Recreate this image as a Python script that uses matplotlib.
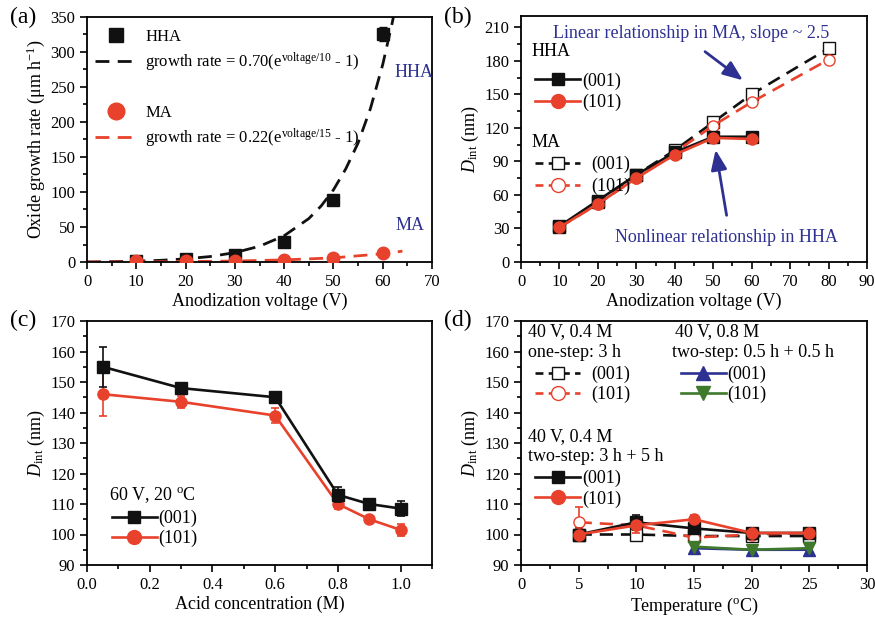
import matplotlib
matplotlib.use("Agg")
import matplotlib.pyplot as plt
from matplotlib.lines import Line2D
from matplotlib.ticker import MultipleLocator

plt.rcParams['font.family'] = ['Liberation Serif', 'DejaVu Serif']
plt.rcParams['mathtext.fontset'] = 'custom'
plt.rcParams['mathtext.rm'] = 'Liberation Serif'
plt.rcParams['mathtext.it'] = 'Liberation Serif:italic'
plt.rcParams['mathtext.bf'] = 'Liberation Serif:bold'
plt.rcParams['font.size'] = 12

BLACK = '#111111'
RED = '#e8412c'
BLUE = '#2e3192'
GREEN = '#3f7a2c'

# ---------------- data (a) ----------------
a_volt = [10, 20, 30, 40, 50, 60]
a_hha = [2, 5, 10, 29, 88, 326]
a_hha_err = [1, 1.5, 2, 4, 5, 10]
a_ma = [1, 2, 2, 3, 6, 13]
a_ma_err = [0.5, 0.5, 0.5, 0.5, 0.5, 1]
a_fit_hha_x = [0, 5, 10, 15, 20, 25, 30, 35, 40, 45, 47.5, 50, 52.5, 55, 57.5, 60, 62, 63.5]
a_fit_hha_y = [0, 0.45, 1.2, 2.4, 4.5, 7.8, 13.4, 22.5, 37.5, 62, 80, 103, 133, 170, 219, 282, 344, 400]
a_fit_ma_x = [0, 10, 20, 30, 40, 50, 60, 64]
a_fit_ma_y = [0, 0.2, 0.6, 1.4, 3.0, 5.9, 11.8, 15.5]

# ---------------- data (b) ----------------
b_volt_hha = [10, 20, 30, 40, 50, 60]
b_hha_001 = [32, 55, 78, 98, 112, 112]
b_hha_101 = [31, 52, 75, 96, 111, 110]
b_volt_ma = [10, 20, 30, 40, 50, 60, 80]
b_ma_001 = [31, 54, 78, 100, 125, 150, 191]
b_ma_101 = [31, 52, 75, 98, 122, 143, 181]
b_err = 3

# ---------------- data (c) ----------------
c_conc = [0.05, 0.3, 0.6, 0.8, 0.9, 1.0]
c_001 = [155, 148, 145, 113, 110, 108.5]
c_001_err = [6.5, 1.5, 1, 2.5, 1, 2.5]
c_101 = [146, 143.5, 139, 110, 105, 101.5]
c_101_err = [7, 2, 2.5, 1.5, 1, 2]

# ---------------- data (d) ----------------
d_temp = [5, 10, 15, 20, 25]
d_one_001 = [100, 100, 99.5, 99.5, 99.5]
d_one_101 = [104, 103, 99, 100, 100.5]
d_one_101_err = [5, 2, 2, 1.5, 1.5]
d_two_001 = [100, 104, 102, 100.5, 100.5]
d_two_101 = [100, 103, 105, 100.5, 100.5]
d_two_err = [2, 2.5, 1.5, 1.5, 1.5]
d_temp_08 = [15, 20, 25]
d_08_001 = [95.5, 95, 95]
d_08_101 = [96, 95, 95.5]
d_08_err = [1.5, 1.5, 1.5]

fig = plt.figure(figsize=(8.75, 6.23), dpi=100)
W, H = 875, 623

def add_axes(l, t, r, b):
    return fig.add_axes([l / W, 1 - b / H, (r - l) / W, (b - t) / H])

axa = add_axes(87, 17, 432, 262)
axb = add_axes(521, 16, 867, 262)
axc = add_axes(87, 321, 432, 565)
axd = add_axes(521, 321, 867, 565)

for ax in (axa, axb, axc, axd):
    ax.tick_params(which='both', direction='out', top=False, right=False, labelsize=12)
    ax.tick_params(which='major', length=5, width=1.2)
    ax.tick_params(which='minor', length=3, width=1.2)
    for s in ax.spines.values():
        s.set_linewidth(1.3)

DASH = (5, 3)
LW = 1.9

# ---------- (a) ----------
axa.plot(a_fit_hha_x, a_fit_hha_y, color=BLACK, lw=2, dashes=DASH, zorder=2)
axa.plot(a_fit_ma_x, a_fit_ma_y, color=RED, lw=2, dashes=DASH, zorder=2)
axa.errorbar(a_volt, a_hha, yerr=a_hha_err, fmt='s', color=BLACK, ms=8, capsize=3, lw=1.2, zorder=3)
axa.errorbar(a_volt, a_ma, yerr=a_ma_err, fmt='o', color=RED, ms=9, capsize=3, lw=1.2, zorder=3)
axa.set_xlim(0, 70)
axa.set_ylim(0, 350)
axa.xaxis.set_major_locator(MultipleLocator(10))
axa.xaxis.set_minor_locator(MultipleLocator(5))
axa.yaxis.set_major_locator(MultipleLocator(50))
axa.yaxis.set_minor_locator(MultipleLocator(25))
axa.set_xlabel('Anodization voltage (V)', fontsize=13, labelpad=2)
axa.set_ylabel(r'Oxide growth rate ($\mathrm{\mu m\ h^{-1}}$)', fontsize=13, labelpad=2)
axa.text(62.3, 270, 'HHA', color=BLUE, fontsize=13, ha='left', va='center')
axa.text(62.5, 52, 'MA', color=BLUE, fontsize=13, ha='left', va='center')
h1 = [Line2D([], [], ls='none', marker='s', color=BLACK, ms=10),
      Line2D([], [], color=BLACK, lw=2, dashes=DASH)]
l1 = ['HHA', r'growth rate = 0.70(e$^{\mathrm{voltage/10}}$ - 1)']
h2 = [Line2D([], [], ls='none', marker='o', color=RED, ms=12),
      Line2D([], [], color=RED, lw=2, dashes=DASH)]
l2 = ['MA', r'growth rate = 0.22(e$^{\mathrm{voltage/15}}$ - 1)']
lg1 = axa.legend(h1, l1, loc='upper left', bbox_to_anchor=(-0.01, 1.0), frameon=False,
                 fontsize=12, handlelength=2.5, handletextpad=0.5, labelspacing=0.35, borderpad=0.2)
axa.add_artist(lg1)
axa.legend(h2, l2, loc='upper left', bbox_to_anchor=(-0.01, 0.69), frameon=False,
           fontsize=12, handlelength=2.5, handletextpad=0.5, labelspacing=0.35, borderpad=0.2)
fig.text(10 / W, 1 - 17 / H, '(a)', fontsize=17, va='center', ha='left')

# ---------- (b) ----------
ek = dict(capsize=3, elinewidth=1.2, capthick=1.2)
axb.errorbar(b_volt_ma, b_ma_001, yerr=b_err, color=BLACK, marker='s', mfc='white', ms=8,
             lw=LW, dashes=DASH, **ek, zorder=3)
axb.errorbar(b_volt_ma, b_ma_101, yerr=b_err, color=RED, marker='o', mfc='white', ms=8,
             lw=LW, dashes=DASH, **ek, zorder=3)
axb.errorbar(b_volt_hha, b_hha_001, yerr=b_err, color=BLACK, marker='s', ms=8, lw=LW, **ek, zorder=4)
axb.errorbar(b_volt_hha, b_hha_101, yerr=b_err, color=RED, marker='o', ms=8, lw=LW, **ek, zorder=4)
axb.set_xlim(0, 90)
axb.set_ylim(0, 220)
axb.xaxis.set_major_locator(MultipleLocator(10))
axb.xaxis.set_minor_locator(MultipleLocator(5))
axb.yaxis.set_major_locator(MultipleLocator(30))
axb.yaxis.set_minor_locator(MultipleLocator(15))
axb.set_xlabel('Anodization voltage (V)', fontsize=13, labelpad=2)
axb.set_ylabel(r'$D_{\mathrm{int}}$ (nm)', fontsize=13, labelpad=2)
axb.text(44.2, 204.5, 'Linear relationship in MA, slope ~ 2.5', color=BLUE, fontsize=13,
         ha='center', va='center')
axb.text(53.5, 21.5, 'Nonlinear relationship in HHA', color=BLUE, fontsize=13,
         ha='center', va='center')
axb.annotate('', xy=(58.3, 161), xytext=(47.3, 189.6),
             arrowprops=dict(arrowstyle='-|>,head_length=1.0,head_width=0.4', color=BLUE, lw=2))
axb.annotate('', xy=(50.5, 102.8), xytext=(53.6, 39.3),
             arrowprops=dict(arrowstyle='-|>,head_length=1.0,head_width=0.4', color=BLUE, lw=2))
axb.text(0.03, 0.855, 'HHA', transform=axb.transAxes, fontsize=13, va='center')
axb.text(0.03, 0.485, 'MA', transform=axb.transAxes, fontsize=13, va='center')
hb1 = [Line2D([], [], color=BLACK, marker='s', ms=9, lw=LW),
       Line2D([], [], color=RED, marker='o', ms=10, lw=LW)]
hb2 = [Line2D([], [], color=BLACK, marker='s', ms=9, mfc='white', lw=LW, dashes=(3, 2)),
       Line2D([], [], color=RED, marker='o', ms=10, mfc='white', lw=LW, dashes=(3, 2))]
lgb = axb.legend(hb1, ['(001)', '(101)'], loc='upper left', bbox_to_anchor=(0.01, 0.815),
                 frameon=False, fontsize=13, handlelength=2.5, handletextpad=0.1,
                 labelspacing=0.25, borderpad=0.1)
axb.add_artist(lgb)
axb.legend(hb2, ['(001)', '(101)'], loc='upper left', bbox_to_anchor=(0.01, 0.475),
           frameon=False, fontsize=13, handlelength=2.5, handletextpad=0.6,
           labelspacing=0.25, borderpad=0.1)
fig.text(444 / W, 1 - 17 / H, '(b)', fontsize=17, va='center', ha='left')

# ---------- (c) ----------
axc.errorbar(c_conc, c_001, yerr=c_001_err, color=BLACK, marker='s', ms=8, lw=LW, **ek, zorder=4)
axc.errorbar(c_conc, c_101, yerr=c_101_err, color=RED, marker='o', ms=8, lw=LW, **ek, zorder=3)
axc.set_xlim(0, 1.1)
axc.set_ylim(90, 170)
axc.xaxis.set_major_locator(MultipleLocator(0.2))
axc.xaxis.set_minor_locator(MultipleLocator(0.1))
axc.yaxis.set_major_locator(MultipleLocator(10))
axc.yaxis.set_minor_locator(MultipleLocator(5))
axc.xaxis.set_major_formatter(matplotlib.ticker.FormatStrFormatter('%.1f'))
axc.set_xlabel('Acid concentration (M)', fontsize=13, labelpad=2)
axc.set_ylabel(r'$D_{\mathrm{int}}$ (nm)', fontsize=13, labelpad=2)
axc.text(0.065, 0.285, r'60 V, 20 $^{\mathrm{o}}$C', transform=axc.transAxes, fontsize=13, va='center')
hc = [Line2D([], [], color=BLACK, marker='s', ms=9, lw=LW),
      Line2D([], [], color=RED, marker='o', ms=10, lw=LW)]
axc.legend(hc, ['(001)', '(101)'], loc='upper left', bbox_to_anchor=(0.04, 0.27),
           frameon=False, fontsize=13, handlelength=2.5, handletextpad=0.1,
           labelspacing=0.15, borderpad=0.1)
fig.text(10 / W, 1 - 320 / H, '(c)', fontsize=17, va='center', ha='left')

# ---------- (d) ----------
axd.errorbar(d_temp, d_one_001, yerr=1, color=BLACK, marker='s', mfc='white', ms=8,
             lw=LW, dashes=DASH, **ek, zorder=3)
axd.errorbar(d_temp, d_one_101, yerr=d_one_101_err, color=RED, marker='o', mfc='white', ms=8,
             lw=LW, dashes=DASH, **ek, zorder=3)
axd.errorbar(d_temp, d_two_001, yerr=d_two_err, color=BLACK, marker='s', ms=8, lw=LW, **ek, zorder=4)
axd.errorbar(d_temp, d_two_101, yerr=d_two_err, color=RED, marker='o', ms=8, lw=LW, **ek, zorder=4)
axd.errorbar(d_temp_08, d_08_001, yerr=d_08_err, color=BLUE, marker='^', ms=8, lw=LW, **ek, zorder=4)
axd.errorbar(d_temp_08, d_08_101, yerr=d_08_err, color=GREEN, marker='v', ms=8, lw=LW, **ek, zorder=4)
axd.set_xlim(0, 30)
axd.set_ylim(90, 170)
axd.xaxis.set_major_locator(MultipleLocator(5))
axd.xaxis.set_minor_locator(MultipleLocator(2.5))
axd.yaxis.set_major_locator(MultipleLocator(10))
axd.yaxis.set_minor_locator(MultipleLocator(5))
axd.set_xlabel(r'Temperature ($^{\mathrm{o}}$C)', fontsize=13, labelpad=2)
axd.set_ylabel(r'$D_{\mathrm{int}}$ (nm)', fontsize=13, labelpad=2)
td = dict(transform=axd.transAxes, fontsize=13, va='center')
axd.text(0.02, 0.955, '40 V, 0.4 M', **td)
axd.text(0.02, 0.869, 'one-step: 3 h', **td)
axd.text(0.445, 0.955, '40 V, 0.8 M', **td)
axd.text(0.435, 0.869, 'two-step: 0.5 h + 0.5 h', **td)
axd.text(0.02, 0.525, '40 V, 0.4 M', **td)
axd.text(0.02, 0.443, 'two-step: 3 h + 5 h', **td)
hd1 = [Line2D([], [], color=BLACK, marker='s', ms=9, mfc='white', lw=LW, dashes=(3, 2)),
       Line2D([], [], color=RED, marker='o', ms=10, mfc='white', lw=LW, dashes=(3, 2))]
hd2 = [Line2D([], [], color=BLUE, marker='^', ms=10, lw=LW),
       Line2D([], [], color=GREEN, marker='v', ms=10, lw=LW)]
hd3 = [Line2D([], [], color=BLACK, marker='s', ms=9, lw=LW),
       Line2D([], [], color=RED, marker='o', ms=10, lw=LW)]
lo = dict(frameon=False, fontsize=13, handlelength=2.5, labelspacing=0.15, borderpad=0.1, loc='upper left')
l_d1 = axd.legend(hd1, ['(001)', '(101)'], bbox_to_anchor=(0.01, 0.86), handletextpad=0.6, **lo)
axd.add_artist(l_d1)
l_d2 = axd.legend(hd2, ['(001)', '(101)'], bbox_to_anchor=(0.43, 0.86), handletextpad=0.1, **lo)
axd.add_artist(l_d2)
axd.legend(hd3, ['(001)', '(101)'], bbox_to_anchor=(0.01, 0.433), handletextpad=0.1, **lo)
fig.text(444 / W, 1 - 320 / H, '(d)', fontsize=17, va='center', ha='left')

fig.savefig('out.png', dpi=100)
